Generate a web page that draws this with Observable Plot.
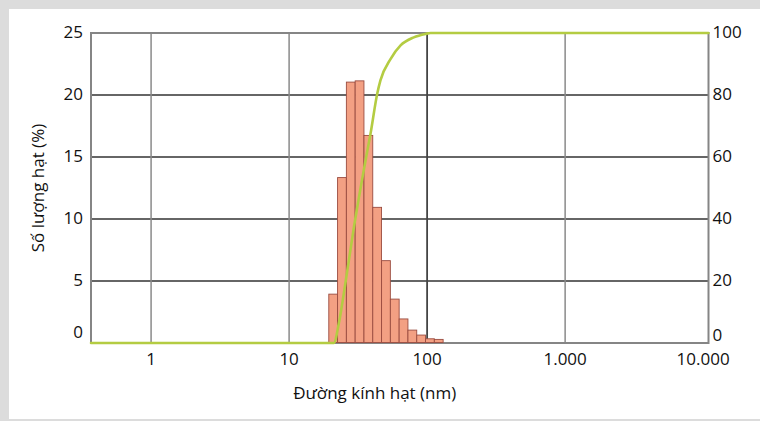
<!DOCTYPE html>
<html>
<head>
<meta charset="utf-8">
<script src="https://cdn.jsdelivr.net/npm/d3@7"></script>
<script src="https://cdn.jsdelivr.net/npm/@observablehq/plot@0.6"></script>
<style>
  body { margin: 0; background: #fff; }
  #wrap { position: relative; width: 760px; height: 421px; overflow: hidden; }
  #edge {
    position: absolute; left: 0; top: 0; width: 751px; height: 410px;
    border-top: 9px solid #dcdcdc; border-left: 9px solid #dcdcdc; border-bottom: 2px solid #dcdcdc;
  }
  #chart { position: absolute; left: 0; top: 0; }
  #chart svg { background: transparent; }
</style>
</head>
<body>
<div id="wrap"><div id="edge"></div><div id="chart"></div></div>
<script>
// Size classes (nm, bin centres) and number distribution (%)
const sizeBins  = [21.04, 24.36, 28.21, 32.67, 37.84, 43.82, 50.75, 58.77, 68.06, 78.82, 91.28, 105.7, 122.4];
const numberPct = [3.9, 13.3, 21.0, 21.1, 16.7, 10.9, 6.6, 3.5, 1.9, 1.0, 0.6, 0.3, 0.25];

// Cumulative number distribution (%), right-hand axis
const cumSize = [0.367, 21.1, 22.9, 24.9, 29.5, 35.8, 38.9, 43.5, 45.9, 54.3, 64.2, 80.1, 97.3, 105.9, 10934];
const cumPct  = [0, 0, 6.2, 15.9, 37.4, 58.9, 67.5, 80.4, 84.7, 91.6, 96, 98.6, 99.7, 100, 100];

// Axis ticks
const xTicks = [1, 10, 100, 1000, 10000];
const xTickLabels = ["1", "10", "100", "1.000", "10.000"];
const leftTicks = [0, 5, 10, 15, 20, 25];
const rightTicks = [0, 20, 40, 60, 80, 100];

const xTitle = "Đường kính hạt (nm)";
const yTitle = "Số lượng hạt (%)";

// Bars span half a log-step either side of each class centre
const halfStep = Math.sqrt(sizeBins[1] / sizeBins[0]);
const bins = sizeBins.map((c, i) => ({x1: c / halfStep, x2: c * halfStep, pct: numberPct[i]}));
const cumulative = cumSize.map((s, i) => ({size: s, pct: cumPct[i]}));

const leftMax = leftTicks[leftTicks.length - 1];
const rightMax = rightTicks[rightTicks.length - 1];
const toLeft = v => v * leftMax / rightMax;

const font = "'Open Sans', 'Noto Sans', sans-serif";
const fs = 17;

const chart = Plot.plot({
  width: 760,
  height: 421,
  marginLeft: 90.5,
  marginRight: 52,
  marginTop: 32.5,
  marginBottom: 78.5,
  style: {fontFamily: font, fontSize: fs + "px", color: "#111", background: "transparent"},
  x: {type: "log", domain: [cumSize[0], cumSize[cumSize.length - 1]], axis: null},
  y: {domain: [0, leftMax], axis: null},
  marks: [
    Plot.gridY(leftTicks.slice(1, -1), {stroke: "#666", strokeOpacity: 1, strokeWidth: 1.8}),
    Plot.gridX(xTicks.filter(d => d !== 100 && d !== 10000), {stroke: "#8a8a8a", strokeOpacity: 1, strokeWidth: 1.5}),
    Plot.gridX([100], {stroke: "#444", strokeOpacity: 1, strokeWidth: 1.8}),
    Plot.frame({stroke: "#858585", strokeWidth: 2}),
    Plot.rectY(bins, {x1: "x1", x2: "x2", y1: 0, y2: "pct", fill: "#f3a083", stroke: "#9a4c40", strokeWidth: 0.9}),
    Plot.line(cumulative, {x: "size", y: d => toLeft(d.pct), stroke: "#b4cc42", strokeWidth: 2.6, curve: "monotone-x"}),
    // x axis
    Plot.axisX(xTicks, {anchor: "bottom", tickSize: 0, tickPadding: 10, fontSize: fs, label: null,
      tickFormat: d => xTickLabels[xTicks.indexOf(d)]}),
    // left axis (the zero label sits a little above the baseline)
    Plot.axisY(leftTicks.slice(1), {anchor: "left", tickSize: 0, tickPadding: 8, fontSize: fs, label: null}),
    Plot.axisY([0], {anchor: "left", tickSize: 0, tickPadding: 8, fontSize: fs, dy: -10, label: null}),
    // right axis, cumulative %
    Plot.axisY(rightTicks.slice(1).map(toLeft), {anchor: "right", tickSize: 0, tickPadding: 4, fontSize: fs, label: null,
      tickFormat: d => String(Math.round(d * rightMax / leftMax))}),
    Plot.axisY([0], {anchor: "right", tickSize: 0, tickPadding: 4, fontSize: fs, dy: -7, label: null, tickFormat: () => "0"}),
    // axis titles
    Plot.text([xTitle], {frameAnchor: "bottom", dx: -25, dy: 56, fontSize: fs}),
    Plot.text([yTitle], {frameAnchor: "left", textAnchor: "middle", rotate: -90, dx: -52, fontSize: fs})
  ]
});
document.getElementById("chart").append(chart);
</script>
</body>
</html>
